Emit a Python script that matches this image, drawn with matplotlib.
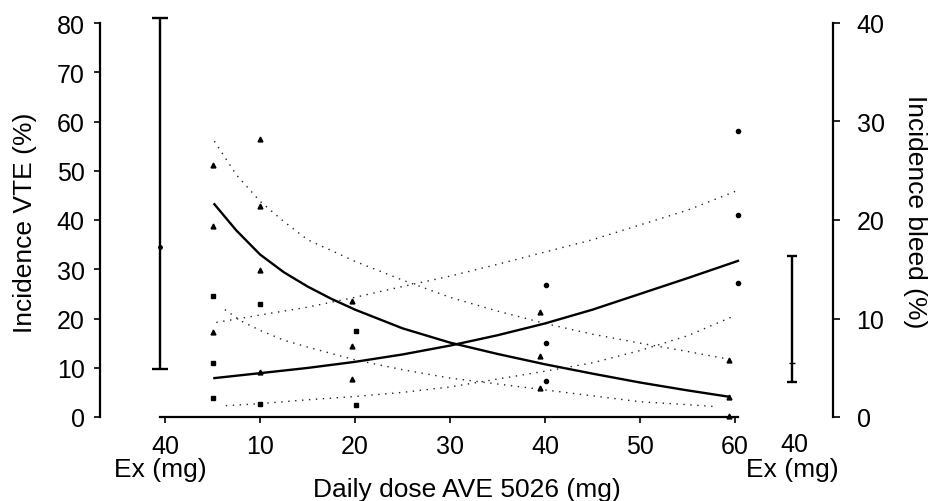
import matplotlib
matplotlib.use("Agg")
import matplotlib.pyplot as plt
import matplotlib.transforms as mtransforms

plt.rcParams['font.family'] = ['Liberation Sans', 'DejaVu Sans']
plt.rcParams['font.size'] = 18

# --- data ---
# VTE points (triangles, left axis, %)
vte_dose = [5, 5, 5, 10, 10, 10, 10, 19.7, 19.7, 19.7, 39.5, 39.5, 39.5, 59.4, 59.4, 59.4]
vte_pct = [51.2, 38.7, 17.3, 56.4, 42.8, 29.9, 9.2, 23.5, 14.4, 7.7, 21.3, 12.3, 5.9, 11.6, 4.1, 0.3]

# bleeding points (right axis, %)
bleed_sq_dose = [5, 5, 5, 10, 10, 20.1, 20.1]
bleed_sq_pct = [12.25, 5.45, 1.9, 11.5, 1.3, 8.7, 1.25]
bleed_dot_dose = [40.1, 40.1, 40.1, 60.3, 60.3, 60.3]
bleed_dot_pct = [13.4, 7.5, 3.7, 29.0, 20.55, 13.65]

# fitted curves with 95% CI
vte_fit_dose = [5.2, 7.5, 10, 12.5, 15, 17.5, 20, 25, 30, 35, 40, 45, 50, 55, 59.4]
vte_fit = [43.2, 37.9, 33.0, 29.4, 26.5, 24.0, 21.8, 18.0, 15.1, 12.8, 10.7, 8.8, 7.0, 5.4, 4.1]
vte_hi_dose = [5.2, 7.5, 10, 12.5, 15, 20, 25, 30, 35, 40, 45, 50, 55, 59.4]
vte_hi = [56, 49.2, 43.8, 39.7, 36.0, 31.6, 27.8, 24.3, 21.5, 19.0, 16.8, 15.0, 13.3, 11.7]
vte_lo_dose = [6.3, 8, 10, 12.5, 15, 20, 25, 30, 35, 40, 45, 50, 55, 58]
vte_lo = [21.8, 19.5, 17.6, 15.6, 14.2, 11.6, 9.6, 7.9, 6.7, 5.5, 4.3, 3.1, 2.5, 2.1]

bleed_fit_dose = [5.2, 10, 15, 20, 25, 30, 35, 40, 45, 50, 55, 60.3]
bleed_fit = [3.95, 4.45, 4.98, 5.6, 6.35, 7.25, 8.3, 9.5, 10.9, 12.5, 14.1, 15.85]
bleed_hi_dose = [5.4, 10, 15, 20, 25, 30, 35, 40, 45, 50, 55, 60]
bleed_hi = [9.6, 10.35, 11.15, 12.15, 13.25, 14.3, 15.5, 16.75, 18.0, 19.5, 21.0, 22.9]
bleed_lo_dose = [6.4, 10, 15, 20, 25, 30, 35, 40, 45, 50, 55, 60]
bleed_lo = [1.15, 1.35, 1.75, 2.08, 2.5, 3.05, 3.85, 4.65, 5.5, 6.75, 8.25, 10.3]

# enoxaparin 40 mg reference bars
ex_vte = 34.5
ex_vte_err = [[34.5 - 9.8], [81.0 - 34.5]]
ex_bleed = 5.45
ex_bleed_err = [[5.45 - 3.6], [16.3 - 5.45]]

x_ticks = [0, 10, 20, 30, 40, 50, 60]
x_tick_labels = ['40', '10', '20', '30', '40', '50', '60']

fig = plt.figure(figsize=(9.35, 5.02), dpi=100)
ax = fig.add_axes([100 / 935, 84 / 502, 733 / 935, 394 / 502])
ax2 = ax.twinx()

ax.set_xlim(-6.84, 70.3)
ax.set_ylim(0, 80)
ax2.set_ylim(0, 40)

dot_style = dict(color='#222222', lw=1.0, linestyle=(0, (1, 4)))

# VTE (left axis)
ax.plot(vte_fit_dose, vte_fit, color='black', lw=1.7)
ax.plot(vte_hi_dose, vte_hi, **dot_style)
ax.plot(vte_lo_dose, vte_lo, **dot_style)
ax.plot(vte_dose, vte_pct, '^', color='black', ms=3.5, clip_on=False)
ax.errorbar([-0.5], [ex_vte], yerr=ex_vte_err, fmt='o', ms=2.5, color='black',
            elinewidth=1.7, capsize=6, capthick=1.7, clip_on=False)

# bleeding (right axis)
ax2.plot(bleed_fit_dose, bleed_fit, color='black', lw=1.7)
ax2.plot(bleed_hi_dose, bleed_hi, **dot_style)
ax2.plot(bleed_lo_dose, bleed_lo, **dot_style)
ax2.plot(bleed_sq_dose, bleed_sq_pct, 's', color='black', ms=3, clip_on=False)
ax2.plot(bleed_dot_dose, bleed_dot_pct, 'o', color='black', ms=3, clip_on=False)
ax2.errorbar([66], [ex_bleed], yerr=ex_bleed_err, fmt='_', ms=4, color='black',
             elinewidth=1.7, capsize=3.5, capthick=1.7, clip_on=False)

# spines
for s in ['top', 'right']:
    ax.spines[s].set_visible(False)
for s in ['top', 'left', 'bottom']:
    ax2.spines[s].set_visible(False)
ax.spines['left'].set_bounds(0, 80)
ax.spines['bottom'].set_bounds(-0.5, 60.3)
for sp in [ax.spines['left'], ax.spines['bottom'], ax2.spines['right']]:
    sp.set_linewidth(1.6)

ax.set_yticks(range(0, 81, 10))
ax2.set_yticks(range(0, 41, 10))
ax.set_xticks(x_ticks)
ax.set_xticklabels(x_tick_labels)
ax.tick_params(axis='both', direction='out', length=4, width=1.2, pad=7)
ax.tick_params(axis='x', pad=8)
ax2.tick_params(axis='y', direction='out', length=5, width=1.2, pad=12)

# axis titles at the reference positions
fig.text(25 / 935, 1 - 223 / 502, 'Incidence VTE (%)', rotation=90, ha='center', va='center', fontsize=19)
fig.text(915 / 935, 1 - 212 / 502, 'Incidence bleed (%)', rotation=-90, ha='center', va='center', fontsize=19)

# extra bottom labels
trans = mtransforms.blended_transform_factory(ax.transData, fig.transFigure)
ax.text(66.2, 1 - 445 / 502, '40', transform=trans, ha='center', va='center')
ax.text(-0.5, 1 - 470 / 502, 'Ex (mg)', transform=trans, ha='center', va='center', fontsize=19)
ax.text(66, 1 - 470 / 502, 'Ex (mg)', transform=trans, ha='center', va='center', fontsize=19)
ax.text(31.8, 1 - 490 / 502, 'Daily dose AVE 5026 (mg)', transform=trans, ha='center', va='center', fontsize=19)

fig.savefig('out.png', dpi=100)
